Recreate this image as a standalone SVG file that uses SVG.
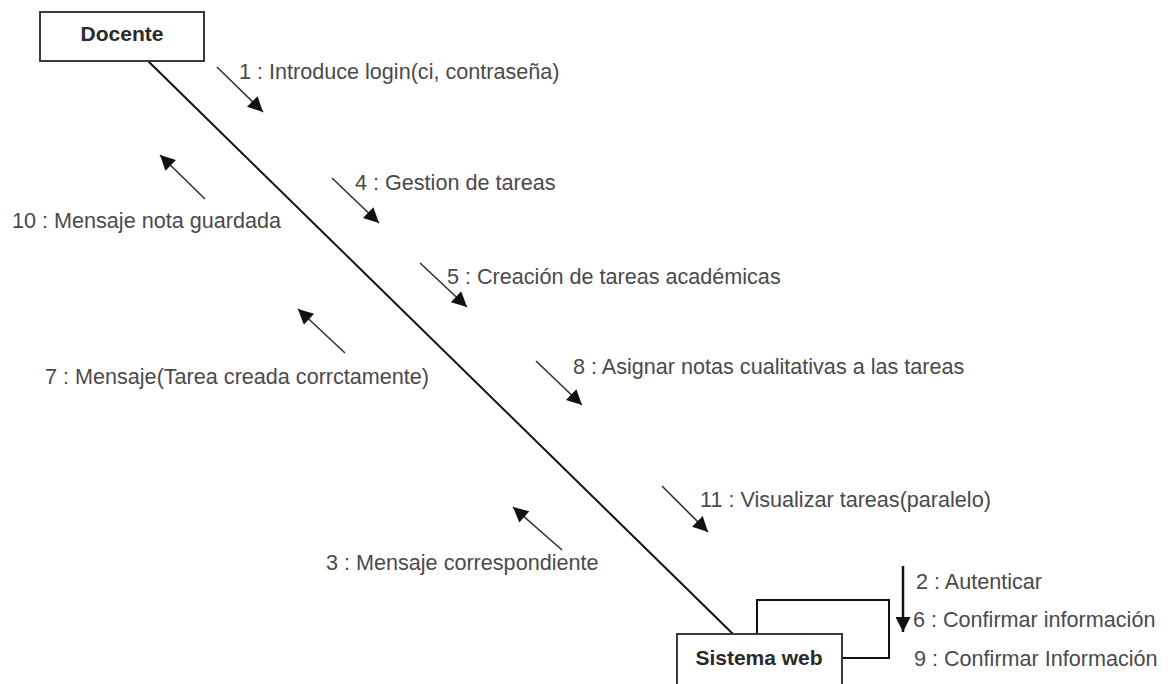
<svg xmlns="http://www.w3.org/2000/svg" width="1168" height="684" viewBox="0 0 1168 684">
<defs>
<marker id="ah2" viewBox="0 0 10 10" refX="10" refY="5" markerWidth="17" markerHeight="15" markerUnits="userSpaceOnUse" orient="auto"><path d="M0,0 L10,5 L0,10 z" fill="#111"/></marker>
<style>
.box{fill:#fff;stroke:#3a3a3a;stroke-width:2}
.bt{font-family:"Liberation Sans",Arial,sans-serif;font-size:21px;font-weight:bold;fill:#2a2a2a;text-anchor:middle}
.lb{font-family:"Liberation Sans",Arial,sans-serif;font-size:21.6px;fill:#4a4a4a}
.msg{stroke:#333;stroke-width:1.6;fill:none;marker-end:url(#ah2)}
.link{stroke:#111;stroke-width:2;fill:none}
</style>
</defs>
<rect width="1168" height="684" fill="#fff"/>
<g id="connectors">
<line class="link" x1="148" y1="61" x2="733" y2="634"/>
<path class="link" d="M757,634 V600 H889 V658 H842"/>
<line x1="903" y1="566" x2="903" y2="632" stroke="#111" stroke-width="2.5" marker-end="url(#ah2)"/>
<line class="msg" x1="217" y1="67" x2="263" y2="112"/>
<line class="msg" x1="205" y1="199" x2="160" y2="155"/>
<line class="msg" x1="332" y1="178" x2="379" y2="223"/>
<line class="msg" x1="420" y1="263" x2="467" y2="307"/>
<line class="msg" x1="345" y1="353" x2="298" y2="309"/>
<line class="msg" x1="536" y1="361" x2="582" y2="405"/>
<line class="msg" x1="662" y1="486" x2="708" y2="532"/>
<line class="msg" x1="562" y1="550" x2="513" y2="507"/>
<text class="lb" x="239" y="79">1 : Introduce login(ci, contraseña)</text>
<text class="lb" x="12" y="228">10 : Mensaje nota guardada</text>
<text class="lb" x="355" y="190">4 : Gestion de tareas</text>
<text class="lb" x="447" y="284">5 : Creación de tareas académicas</text>
<text class="lb" x="45" y="384">7 : Mensaje(Tarea creada corrctamente)</text>
<text class="lb" x="573" y="374">8 : Asignar notas cualitativas a las tareas</text>
<text class="lb" x="700" y="507">11 : Visualizar tareas(paralelo)</text>
<text class="lb" x="326" y="570">3 : Mensaje correspondiente</text>
<text class="lb" x="916" y="589">2 : Autenticar</text>
<text class="lb" x="913" y="627">6 : Confirmar información</text>
<text class="lb" x="914" y="666">9 : Confirmar Información</text>
</g>
<g id="docente">
<rect class="box" x="40" y="12" width="164" height="49"/>
<text class="bt" x="122" y="41">Docente</text>
</g>
<g id="sistema-web">
<rect class="box" x="677" y="634" width="165" height="60"/>
<text class="bt" x="759" y="665">Sistema web</text>
</g>
</svg>
